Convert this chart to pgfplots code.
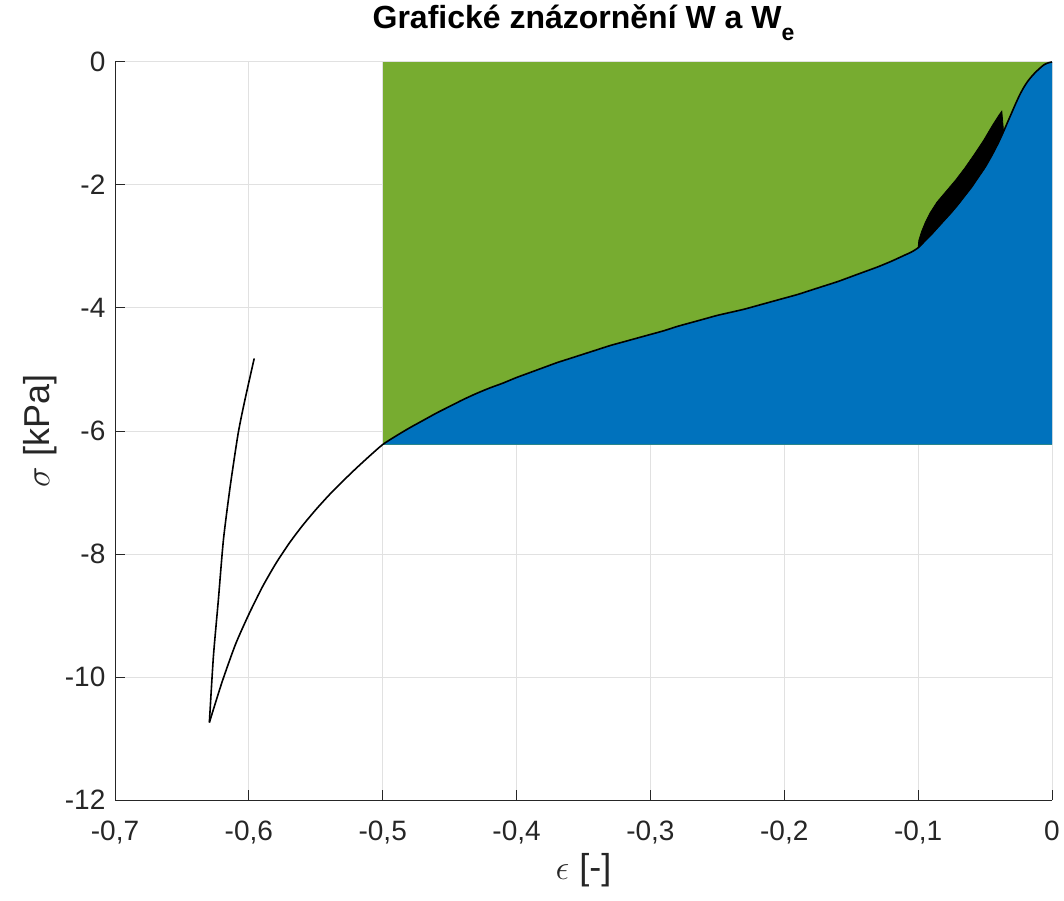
\documentclass[border=0pt]{standalone}
\usepackage{pgfplots}
\pgfplotsset{compat=1.18}
\usepackage{fontspec}
\setmainfont{Liberation Sans}

\definecolor{wgreen}{RGB}{119,172,48}
\definecolor{wblue}{RGB}{0,114,189}
\definecolor{gridgray}{RGB}{225,225,225}
\definecolor{axgray}{RGB}{38,38,38}

% loading branch from the origin down to the minimum
\pgfplotstableread{
eps sig
0 0
-0.003 -0.015
-0.006 -0.045
-0.009 -0.10
-0.012 -0.16
-0.015 -0.23
-0.018 -0.31
-0.021 -0.41
-0.024 -0.53
-0.027 -0.67
-0.030 -0.82
-0.033 -0.97
-0.0362 -1.13
-0.040 -1.31
-0.045 -1.52
-0.050 -1.71
-0.055 -1.87
-0.060 -2.03
-0.065 -2.17
-0.070 -2.31
-0.075 -2.44
-0.080 -2.56
-0.085 -2.68
-0.090 -2.80
-0.095 -2.91
-0.100 -3.02
-0.105 -3.09
-0.110 -3.14
-0.120 -3.24
-0.130 -3.33
-0.140 -3.41
-0.150 -3.49
-0.160 -3.57
-0.170 -3.64
-0.180 -3.71
-0.190 -3.78
-0.200 -3.84
-0.210 -3.90
-0.220 -3.96
-0.230 -4.02
-0.240 -4.07
-0.250 -4.12
-0.260 -4.18
-0.270 -4.24
-0.280 -4.30
-0.290 -4.37
-0.300 -4.43
-0.310 -4.49
-0.320 -4.55
-0.330 -4.61
-0.340 -4.68
-0.350 -4.75
-0.360 -4.82
-0.370 -4.89
-0.380 -4.97
-0.390 -5.05
-0.400 -5.13
-0.410 -5.22
-0.420 -5.30
-0.430 -5.39
-0.440 -5.49
-0.450 -5.60
-0.460 -5.71
-0.470 -5.83
-0.480 -5.95
-0.490 -6.08
-0.500 -6.22
-0.510 -6.41
-0.520 -6.61
-0.530 -6.82
-0.540 -7.04
-0.550 -7.28
-0.560 -7.54
-0.570 -7.83
-0.580 -8.16
-0.590 -8.54
-0.600 -8.98
-0.610 -9.47
-0.620 -10.08
-0.6295 -10.74
}\loading

% unloading branch
\pgfplotstableread{
eps sig
-0.6295 -10.74
-0.6265 -9.67
-0.6228 -8.75
-0.619 -7.77
-0.614 -6.91
-0.608 -6.04
-0.603 -5.50
-0.596 -4.82
}\unloading

% elastic work W_e: below the loading branch, down to -6.22 kPa
\pgfplotstableread{
eps sig
0 -6.22
0 0
-0.003 -0.015
-0.006 -0.045
-0.009 -0.10
-0.012 -0.16
-0.015 -0.23
-0.018 -0.31
-0.021 -0.41
-0.024 -0.53
-0.027 -0.67
-0.030 -0.82
-0.033 -0.97
-0.0362 -1.13
-0.040 -1.31
-0.045 -1.52
-0.050 -1.71
-0.055 -1.87
-0.060 -2.03
-0.065 -2.17
-0.070 -2.31
-0.075 -2.44
-0.080 -2.56
-0.085 -2.68
-0.090 -2.80
-0.095 -2.91
-0.100 -3.02
-0.105 -3.09
-0.110 -3.14
-0.120 -3.24
-0.130 -3.33
-0.140 -3.41
-0.150 -3.49
-0.160 -3.57
-0.170 -3.64
-0.180 -3.71
-0.190 -3.78
-0.200 -3.84
-0.210 -3.90
-0.220 -3.96
-0.230 -4.02
-0.240 -4.07
-0.250 -4.12
-0.260 -4.18
-0.270 -4.24
-0.280 -4.30
-0.290 -4.37
-0.300 -4.43
-0.310 -4.49
-0.320 -4.55
-0.330 -4.61
-0.340 -4.68
-0.350 -4.75
-0.360 -4.82
-0.370 -4.89
-0.380 -4.97
-0.390 -5.05
-0.400 -5.13
-0.410 -5.22
-0.420 -5.30
-0.430 -5.39
-0.440 -5.49
-0.450 -5.60
-0.460 -5.71
-0.470 -5.83
-0.480 -5.95
-0.490 -6.08
-0.500 -6.22
}\welastic

% unloading-reloading loop
\pgfplotstableread{
eps sig
-0.0375 -0.80
-0.0362 -1.13
-0.040 -1.31
-0.045 -1.52
-0.050 -1.71
-0.055 -1.87
-0.060 -2.03
-0.065 -2.17
-0.070 -2.31
-0.075 -2.44
-0.080 -2.56
-0.085 -2.68
-0.090 -2.80
-0.095 -2.91
-0.100 -3.02
-0.0995 -2.90
-0.0975 -2.76
-0.0945 -2.60
-0.091 -2.45
-0.086 -2.28
-0.079 -2.10
-0.072 -1.92
-0.065 -1.72
-0.058 -1.50
-0.051 -1.27
-0.0445 -1.03
-0.0395 -0.86
-0.0375 -0.80
}\loop

\begin{document}
\begin{tikzpicture}
\begin{axis}[
  set layers,
  scale only axis,
  width=468.5pt, height=369pt,
  xmin=-0.7, xmax=0, ymin=-12, ymax=0,
  axis x line*=bottom, axis y line*=left,
  axis line style={-, axgray, line width=0.5pt},
  xtick={-0.7,-0.6,-0.5,-0.4,-0.3,-0.2,-0.1,0},
  xticklabels={{-0,7},{-0,6},{-0,5},{-0,4},{-0,3},{-0,2},{-0,1},{0}},
  ytick={-12,-10,-8,-6,-4,-2,0},
  yticklabels={-12,-10,-8,-6,-4,-2,0},
  tick align=inside,
  major tick length=5pt,
  tick style={axgray, line width=0.5pt},
  grid=major,
  major grid style={gridgray, line width=0.5pt},
  ticklabel style={font=\fontsize{14}{16}\selectfont, text=axgray},
  xticklabel style={yshift=-6.8pt},
  yticklabel style={xshift=-1.3pt},
  title={Grafické znázornění W a W\raisebox{-6pt}{\fontsize{11.5}{12}\selectfont e}},
  title style={font=\bfseries\fontsize{16}{18}\selectfont,
    at={(axis description cs:0.5,1)}, anchor=base, yshift=10.5pt},
  xlabel={$\epsilon$ [-]},
  ylabel={$\sigma$ [kPa]},
  xlabel style={font=\fontsize{18}{20}\selectfont, text=axgray,
    at={(axis description cs:0.5,0)}, anchor=center, yshift=-35pt},
  ylabel style={font=\fontsize{18}{20}\selectfont, text=axgray,
    at={(axis description cs:-0.080,0.5)}, anchor=center},
]
  % total work W
  \addplot[fill=wgreen, draw=none] coordinates
    {(-0.5,-6.22) (-0.5,0) (0,0) (0,-6.22)} -- cycle;
  % elastic part
  \addplot[fill=wblue, draw=none] table[x=eps, y=sig] {\welastic} -- cycle;
  % loop
  \addplot[fill=black, draw=black, line width=0.4pt] table[x=eps, y=sig] {\loop} -- cycle;
  % stress-strain curve
  \addplot[black, line width=0.8pt, smooth, tension=0.4] table[x=eps, y=sig] {\loading};
  \addplot[black, line width=0.8pt, smooth, tension=0.4] table[x=eps, y=sig] {\unloading};
\end{axis}
\pgfresetboundingbox
\path ([xshift=-57.5pt, yshift=-50pt]current axis.south west)
  rectangle ([xshift=6pt, yshift=31pt]current axis.north east);
\end{tikzpicture}
\end{document}
